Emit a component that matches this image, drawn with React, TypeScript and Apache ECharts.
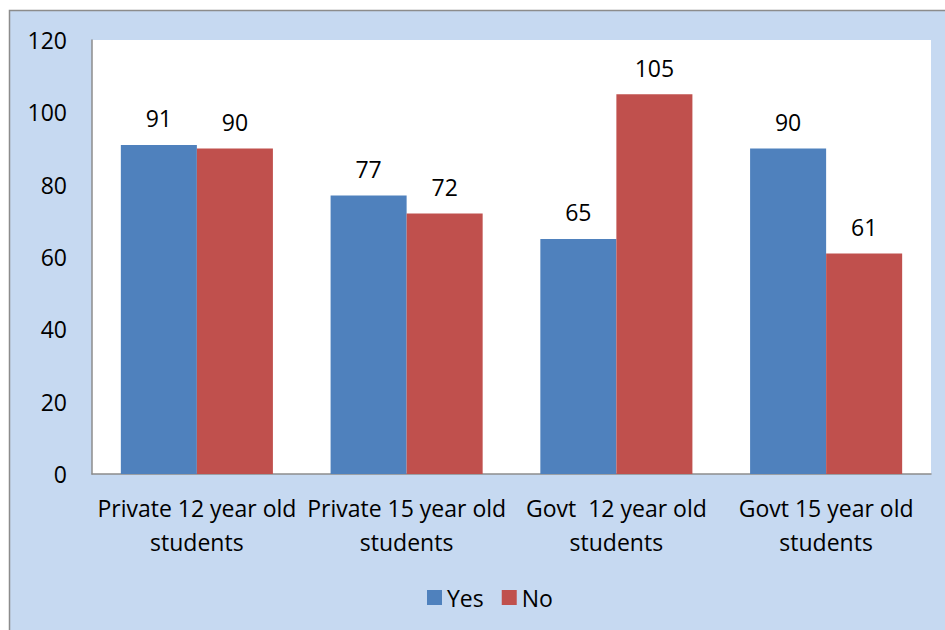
import React, { useEffect, useRef } from "react";
import * as echarts from "echarts";

const categories = [
  "Private 12 year old\nstudents",
  "Private 15 year old\nstudents",
  "Govt  12 year old\nstudents",
  "Govt 15 year old\nstudents",
];
const yesValues = [91, 77, 65, 90];
const noValues = [90, 72, 105, 61];

const FONT = "'Open Sans', sans-serif";
const FS = 23;

export default function App() {
  const ref = useRef<HTMLDivElement>(null);
  useEffect(() => {
    if (!ref.current) return;
    const chart = echarts.init(ref.current, undefined, { renderer: "svg" });
    chart.setOption({
      animation: false,
      backgroundColor: "#ffffff",
      textStyle: { fontFamily: FONT },
      graphic: [
        {
          type: "rect",
          z: -10,
          silent: true,
          shape: { x: 9.5, y: 10.5, width: 1000, height: 1000 },
          style: { fill: "#C6D9F1", stroke: "#8C8C8C", lineWidth: 1.5 },
        },
      ],
      grid: {
        left: 92,
        top: 40,
        right: 14,
        bottom: 156,
        show: true,
        backgroundColor: "#ffffff",
        borderWidth: 0,
        containLabel: false,
      },
      legend: {
        top: 581,
        left: 422,
        itemWidth: 15,
        itemHeight: 15,
        itemGap: 18,
        icon: "rect",
        textStyle: { fontSize: FS, color: "#000", fontFamily: FONT },
        data: ["Yes", "No"],
      },
      xAxis: {
        type: "category",
        data: categories,
        axisLine: { show: true, lineStyle: { color: "#8C8C8C", width: 1.5 } },
        axisTick: { show: false },
        axisLabel: {
          fontSize: FS,
          color: "#000",
          lineHeight: 34,
          margin: 17,
          interval: 0,
          fontFamily: FONT,
        },
      },
      yAxis: {
        type: "value",
        min: 0,
        max: 120,
        interval: 20,
        axisLine: { show: true, lineStyle: { color: "#8C8C8C", width: 1.5 } },
        axisTick: { show: false },
        splitLine: { show: false },
        axisLabel: { fontSize: FS, color: "#000", margin: 25, fontFamily: FONT },
      },
      series: [
        {
          name: "Yes",
          type: "bar",
          data: yesValues,
          barGap: "0%",
          barCategoryGap: "27.5%",
          itemStyle: { color: "#4F81BD" },
          label: {
            show: true,
            position: "top",
            distance: 15,
            fontSize: FS,
            color: "#000",
            fontFamily: FONT,
          },
        },
        {
          name: "No",
          type: "bar",
          data: noValues,
          barGap: "0%",
          barCategoryGap: "27.5%",
          itemStyle: { color: "#C0504D" },
          label: {
            show: true,
            position: "top",
            distance: 15,
            fontSize: FS,
            color: "#000",
            fontFamily: FONT,
          },
        },
      ],
    });
    return () => chart.dispose();
  }, []);
  return (
    <div
      ref={ref}
      style={{ position: "fixed", left: 0, top: 0, width: 945, height: 630 }}
    />
  );
}
